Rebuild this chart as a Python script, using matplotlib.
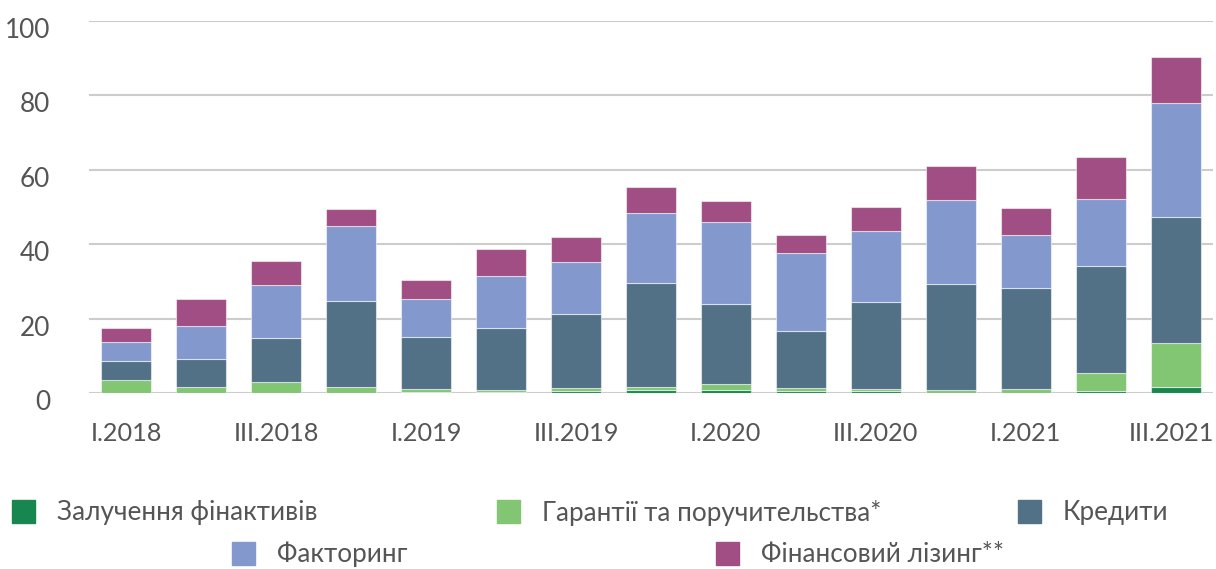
import numpy as np
import matplotlib
matplotlib.use('Agg')
import matplotlib.pyplot as plt
import matplotlib.transforms as mtransforms
from matplotlib.patches import Rectangle

# data
quarters = ['I.2018', 'II.2018', 'III.2018', 'IV.2018',
            'I.2019', 'II.2019', 'III.2019', 'IV.2019',
            'I.2020', 'II.2020', 'III.2020', 'IV.2020',
            'I.2021', 'II.2021', 'III.2021']
zaluchennia = [0.0, 0.0, 0.0, 0.0, 0.4, 0.3, 0.5, 0.8, 0.9, 0.6, 0.5, 0.1, 0.1, 0.6, 1.7]
garantii = [3.5, 1.6, 3.0, 1.5, 0.7, 0.4, 0.8, 0.8, 1.4, 0.7, 0.6, 0.6, 1.0, 4.8, 11.7]
kredyty = [5.1, 7.5, 11.9, 23.3, 13.9, 16.9, 20.0, 27.9, 21.7, 15.5, 23.3, 28.5, 27.0, 28.8, 33.9]
faktoring = [5.1, 8.8, 14.1, 20.1, 10.2, 13.8, 13.8, 18.9, 22.1, 20.9, 19.2, 22.6, 14.3, 18.0, 30.6]
lizing = [3.7, 7.3, 6.4, 4.5, 5.2, 7.2, 6.8, 7.1, 5.4, 4.8, 6.4, 9.2, 7.2, 11.2, 12.3]

labels = ['Залучення фінактивів', 'Гарантії та поручительства*', 'Кредити',
          'Факторинг', 'Фінансовий лізинг**']
colors = ['#17874f', '#82c572', '#527186', '#8398cd', '#a04e83']

W, H = 1216, 569
fig = plt.figure(figsize=(W / 100, H / 100), dpi=100)
ax = fig.add_axes([89 / W, 176 / H, (1213 - 89) / W, (548 - 176) / H])

txt_col = '#555555'
font = 'Lato'
fsize = 18.8

x = np.arange(len(quarters))
bottom = np.zeros(len(quarters))
series = [zaluchennia, garantii, kredyty, faktoring, lizing]
for vals, col in zip(series, colors):
    vals = np.array(vals)
    ax.bar(x, vals, width=0.667, bottom=bottom, color=col,
           edgecolor=(1, 1, 1, 0.55), linewidth=0.8, zorder=3)
    bottom += vals

ax.set_xlim(-0.5, len(quarters) - 0.5)
ax.set_ylim(0, 100)
ax.set_yticks(np.arange(0, 101, 20))
ax.set_xticks(x[::2])
ax.set_xticklabels(quarters[::2])
ax.yaxis.grid(True, color='#cccccc', linewidth=1.5, zorder=0)
ax.set_axisbelow(True)
for s in ax.spines.values():
    s.set_visible(False)
ax.tick_params(axis='both', length=0, labelsize=fsize, labelcolor=txt_col)
ax.tick_params(axis='x', pad=21, labelsize=18.2)
ax.tick_params(axis='y', pad=28)
for lab in ax.get_xticklabels() + ax.get_yticklabels():
    lab.set_fontfamily(font)
# y labels sit a little below their gridlines
off = mtransforms.ScaledTranslation(0, -7 / 100, fig.dpi_scale_trans)
for lab in ax.get_yticklabels():
    lab.set_transform(lab.get_transform() + off)
# last quarter label nudged so it stays inside the figure
last = ax.get_xticklabels()[-1]
last.set_transform(last.get_transform() +
                   mtransforms.ScaledTranslation(-4 / 100, 0, fig.dpi_scale_trans))

# legend, placed by hand in two rows
leg_pos = [(12, 511.5), (497, 511.5), (1018, 511.5), (232, 553), (716, 553)]
for (px, py), lab, col in zip(leg_pos, labels, colors):
    fig.add_artist(Rectangle((px / W, 1 - (py + 11.5) / H), 23 / W, 23 / H,
                             transform=fig.transFigure, color=col))
    fig.text((px + 45) / W, 1 - (py + 1) / H, lab, fontsize=fsize, color=txt_col,
             family=font, va='center', ha='left')

fig.savefig('out.png', dpi=100)
